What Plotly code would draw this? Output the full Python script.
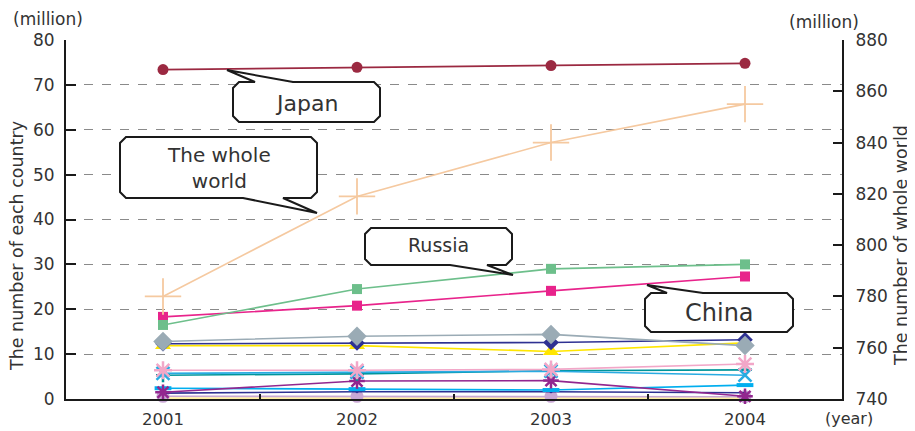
import plotly.graph_objects as go

# ---------------- data ----------------
years = ["2001", "2002", "2003", "2004"]
japan = [73.4, 73.9, 74.3, 74.8]
world = [780, 819, 840, 855]          # right axis
russia = [16.5, 24.5, 29.0, 30.0]
china = [18.3, 20.8, 24.1, 27.3]
gray_diamond = [12.8, 14.0, 14.4, 11.9]
navy_diamond = [12.3, 12.5, 12.6, 13.2]
yellow_tri = [11.9, 11.9, 10.6, 12.5]
pink_ast = [6.4, 6.4, 6.6, 7.8]
cyan_x = [5.7, 6.0, 6.2, 5.3]
teal = [5.3, 5.6, 6.3, 6.5]
purple_ast = [1.5, 4.0, 4.1, 0.6]
blue_dash = [2.4, 2.2, 2.0, 3.1]
navy_line = [1.3, 1.6, 1.6, 1.4]
lilac = [0.6, 0.6, 0.6, 0.5]
light_yellow = [0.2, 0.2, 0.2, 0.2]

left_ticks = [0, 10, 20, 30, 40, 50, 60, 70, 80]
right_ticks = [740, 760, 780, 800, 820, 840, 860, 880]

FONT = "DejaVu Sans"
TXT = "#333333"

# page offset (body margin) and plot area in page pixels
OFF = 8
L, R, T, B = 66, 842, 40, 399
W_, H_ = R - L, B - T


def px(x):
    return (x - L) / W_


def py(y):
    return (B - y) / H_


fig = go.Figure()


def add(vals, color, symbol, size, lw=1.6, mline=None, yaxis="y", mcolor=None):
    marker = dict(symbol=symbol, size=size, color=mcolor or color)
    if mline is not None:
        marker["line"] = dict(color=color, width=mline)
    fig.add_trace(go.Scatter(
        x=years, y=vals, mode="lines+markers", yaxis=yaxis,
        line=dict(color=color, width=lw), marker=marker,
        showlegend=False, hoverinfo="skip", cliponaxis=False))


add(light_yellow, "#FFF0A0", "triangle-up", 10)
add(lilac, "#C8A8D4", "circle", 13)
add(navy_line, "#2E3192", "circle", 3)
add(blue_dash, "#00AEEF", "line-ew", 12, mline=4)
add(purple_ast, "#92278F", "asterisk", 13, mline=2.5)
add(teal, "#00959A", "cross-thin", 10, mline=2.5)
add(cyan_x, "#29ABE2", "x-thin", 13, mline=2.5)
add(pink_ast, "#F2A7C8", "asterisk", 15, mline=2.5)
add(yellow_tri, "#FFE600", "triangle-up", 14)
add(navy_diamond, "#2E3192", "diamond", 12)
add(gray_diamond, "#9AABB5", "diamond", 15)
add(china, "#E8238B", "square", 10)
add(russia, "#6DBF8B", "square", 10)
add(japan, "#9B2941", "circle", 11)
add(world, "#F5C9A0", "cross-thin", 26, mline=1.8, yaxis="y2")


# ---------------- callout bubbles ----------------
def bubble(x0, y0, x1, y1, side, b0, b1, tip, c=6):
    if side == "top":
        pts = [(x0 + c, y0), (b0, y0), tip, (b1, y0), (x1 - c, y0), (x1, y0 + c),
               (x1, y1 - c), (x1 - c, y1), (x0 + c, y1), (x0, y1 - c), (x0, y0 + c)]
    else:
        pts = [(x0 + c, y0), (x1 - c, y0), (x1, y0 + c), (x1, y1 - c), (x1 - c, y1),
               (b1, y1), tip, (b0, y1), (x0 + c, y1), (x0, y1 - c), (x0, y0 + c)]
    path = "M " + " L ".join(f"{px(a):.5f},{py(b):.5f}" for a, b in pts) + " Z"
    fig.add_shape(type="path", path=path, xref="paper", yref="paper",
                  fillcolor="white", line=dict(color="#1a1a1a", width=2), layer="above")


bubble(233, 82, 380, 122, "top", 255, 293, (227, 70))
bubble(120, 137, 317, 198, "bottom", 243, 283, (317, 213))
bubble(365, 228, 512, 265, "bottom", 450, 487, (513, 275))
bubble(645, 293, 793, 332, "top", 667, 703, (647, 285))


def label(text, x, y, size, angle=0, xanchor="center"):
    fig.add_annotation(text=text, x=px(x), y=py(y), xref="paper", yref="paper",
                       showarrow=False, textangle=angle, xanchor=xanchor, yanchor="middle",
                       font=dict(family=FONT, size=size, color=TXT))


label("Japan", 306, 103, 22)
label("The whole<br>world", 219, 168, 20)
label("Russia", 438, 245, 19)
label("China", 719, 313, 24)
label("(million)", 48, 19, 17)
label("(million)", 824, 22, 17)
label("(year)", 849, 418, 16)
label("The number of each country", 17, 246, 17.5, angle=-90)
label("The number of whole world", 901, 246, 17.5, angle=-90)

axis_common = dict(showline=True, linecolor="#1a1a1a", linewidth=2, tickwidth=2,
                   tickcolor="#1a1a1a", zeroline=False, automargin=False)

fig.update_layout(
    width=915 - OFF, height=431 - OFF,
    margin=dict(l=L - OFF, r=915 - R, t=T - OFF, b=431 - B, pad=0, autoexpand=False),
    paper_bgcolor="white", plot_bgcolor="white",
    font=dict(family=FONT, color=TXT, size=17),
    xaxis=dict(type="category", range=[-0.5, 3.5], ticks="inside", tickson="boundaries",
               ticklen=5, showgrid=False, tickfont=dict(size=16.5, color=TXT),
               ticklabelstandoff=4, **axis_common),
    yaxis=dict(range=[0, 80], tickvals=left_ticks, ticks="inside", ticklen=10,
               showgrid=True, gridcolor="#8a8a8a", griddash="dash", gridwidth=1,
               tickfont=dict(size=17, color=TXT), ticklabelstandoff=6, **axis_common),
    yaxis2=dict(range=[740, 880], tickvals=right_ticks, overlaying="y", side="right",
                ticks="inside", ticklen=9, showgrid=False,
                tickfont=dict(size=17, color=TXT), ticklabelstandoff=8, **axis_common),
)

fig.write_html("out.html")
